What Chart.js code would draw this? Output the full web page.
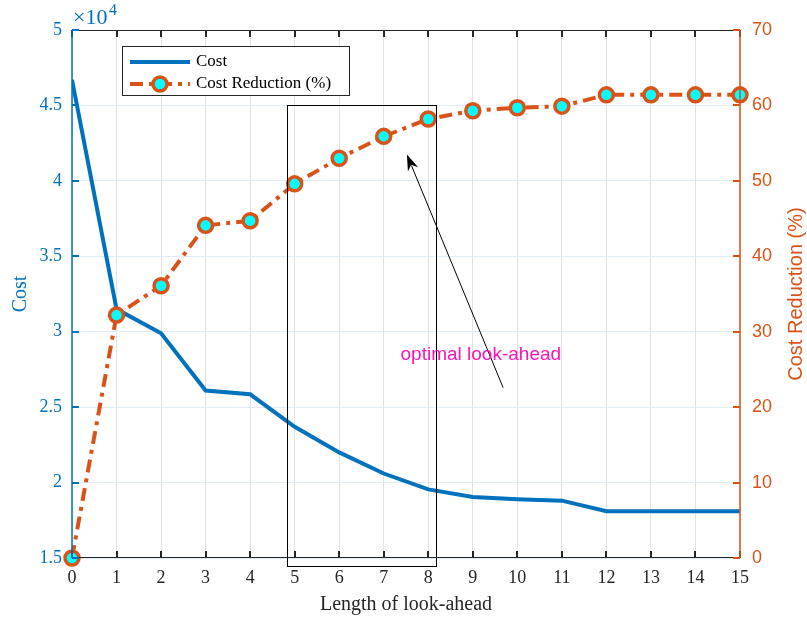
<!DOCTYPE html>
<html>
<head>
<meta charset="utf-8">
<script src="https://cdn.jsdelivr.net/npm/chart.js@4/dist/chart.umd.min.js"></script>
<style>
  html, body { margin: 0; padding: 0; background: #fff; }
  #wrap { width: 807px; height: 619px; }
</style>
</head>
<body>
<div id="wrap"><canvas id="c"></canvas></div>
<script>
// data
var lookAhead = [0, 1, 2, 3, 4, 5, 6, 7, 8, 9, 10, 11, 12, 13, 14, 15];
var cost = [46700, 31500, 29900, 26100, 25850, 23700, 22000, 20600, 19550, 19050, 18900, 18800, 18100, 18100, 18100, 18100];
var costReduction = [0, 32.2, 36.1, 44.1, 44.7, 49.6, 53.0, 55.9, 58.2, 59.3, 59.7, 59.9, 61.4, 61.4, 61.4, 61.4];
var costTicks = [15000, 20000, 25000, 30000, 35000, 40000, 45000, 50000];
var reductionTicks = [0, 10, 20, 30, 40, 50, 60, 70];

// annotation (data units)
var boxX = [4.83, 8.17];
var boxY = [45000, 14470];
var arrowFrom = [9.68, 26300];
var arrowTo = [7.52, 41750];
var noteAt = [9.18, 28460];
var noteText = 'optimal look-ahead';

var BLUE = '#0072BD', ORANGE = '#D95319', SERIF = '"Liberation Serif", "Times New Roman", serif', SANS = '"Liberation Sans", Arial, sans-serif';

var decorations = {
    id: 'decorations',
    afterDatasetsDraw: function (chart) {
        var ctx = chart.ctx, a = chart.chartArea;
        var x = chart.scales.x, y = chart.scales.y, y1 = chart.scales.y1;
        ctx.save();
        // axes box
        ctx.lineWidth = 1;
        ctx.strokeStyle = '#262626';
        ctx.beginPath();
        ctx.moveTo(a.left, a.top + 0.5); ctx.lineTo(a.right, a.top + 0.5);
        ctx.moveTo(a.left, a.bottom - 0.5); ctx.lineTo(a.right, a.bottom - 0.5);
        ctx.stroke();
        // x ticks (inward, top and bottom)
        ctx.lineWidth = 2;
        ctx.beginPath();
        lookAhead.forEach(function (v) {
            var px = Math.round(x.getPixelForValue(v));
            ctx.moveTo(px, a.bottom); ctx.lineTo(px, a.bottom - 7);
            ctx.moveTo(px, a.top); ctx.lineTo(px, a.top + 7);
        });
        ctx.stroke();
        // left axis
        ctx.strokeStyle = BLUE;
        ctx.lineWidth = 1.5;
        ctx.beginPath();
        ctx.moveTo(a.left, a.top); ctx.lineTo(a.left, a.bottom);
        ctx.stroke();
        ctx.lineWidth = 2;
        ctx.beginPath();
        costTicks.forEach(function (v) {
            var py = Math.round(y.getPixelForValue(v));
            ctx.moveTo(a.left, py); ctx.lineTo(a.left + 7, py);
        });
        ctx.stroke();
        // right axis
        ctx.strokeStyle = ORANGE;
        ctx.lineWidth = 1.5;
        ctx.beginPath();
        ctx.moveTo(a.right, a.top); ctx.lineTo(a.right, a.bottom);
        ctx.stroke();
        ctx.lineWidth = 2;
        ctx.beginPath();
        reductionTicks.forEach(function (v) {
            var py = Math.round(y1.getPixelForValue(v));
            ctx.moveTo(a.right, py); ctx.lineTo(a.right - 7, py);
        });
        ctx.stroke();
        ctx.restore();
    },
    afterDraw: function (chart) {
        var ctx = chart.ctx, a = chart.chartArea;
        var x = chart.scales.x, y = chart.scales.y;
        ctx.save();
        // exponent label
        ctx.fillStyle = BLUE;
        ctx.textBaseline = 'alphabetic';
        ctx.font = '22px ' + SERIF;
        ctx.fillText('\u00d710', a.left + 1, a.top - 6);
        ctx.font = '16px ' + SERIF;
        ctx.fillText('4', a.left + 37, a.top - 15);

        // right title, reading bottom to top
        ctx.save();
        ctx.translate(chart.width - 11, (a.top + a.bottom) / 2);
        ctx.rotate(-Math.PI / 2);
        ctx.textAlign = 'center';
        ctx.textBaseline = 'middle';
        ctx.fillStyle = ORANGE;
        ctx.font = '20px ' + SANS;
        ctx.fillText('Cost Reduction (%)', 0, 0);
        ctx.restore();

        // highlight box
        var bx0 = x.getPixelForValue(boxX[0]), bx1 = x.getPixelForValue(boxX[1]);
        var by0 = y.getPixelForValue(boxY[0]), by1 = y.getPixelForValue(boxY[1]);
        ctx.strokeStyle = '#000';
        ctx.lineWidth = 1;
        ctx.strokeRect(Math.round(bx0) + 0.5, Math.round(by0) + 0.5, Math.round(bx1 - bx0), Math.round(by1 - by0));

        // arrow
        var ax0 = x.getPixelForValue(arrowFrom[0]), ay0 = y.getPixelForValue(arrowFrom[1]);
        var ax1 = x.getPixelForValue(arrowTo[0]), ay1 = y.getPixelForValue(arrowTo[1]);
        var ang = Math.atan2(ay1 - ay0, ax1 - ax0);
        ctx.beginPath();
        ctx.moveTo(ax0, ay0);
        ctx.lineTo(ax1 - 12 * Math.cos(ang), ay1 - 12 * Math.sin(ang));
        ctx.stroke();
        ctx.fillStyle = '#000';
        ctx.beginPath();
        ctx.moveTo(ax1, ay1);
        ctx.lineTo(ax1 - 17 * Math.cos(ang - 0.33), ay1 - 17 * Math.sin(ang - 0.33));
        ctx.lineTo(ax1 - 11 * Math.cos(ang), ay1 - 11 * Math.sin(ang));
        ctx.lineTo(ax1 - 17 * Math.cos(ang + 0.33), ay1 - 17 * Math.sin(ang + 0.33));
        ctx.closePath();
        ctx.fill();

        // note text
        ctx.fillStyle = '#ff14b4';
        ctx.font = '19px ' + SANS;
        ctx.textAlign = 'center';
        ctx.textBaseline = 'middle';
        ctx.fillText(noteText, x.getPixelForValue(noteAt[0]), y.getPixelForValue(noteAt[1]));

        // legend
        var lx = 122, ly = 46, lw = 227, lh = 49;
        ctx.fillStyle = '#fff';
        ctx.fillRect(lx, ly, lw, lh);
        ctx.strokeStyle = '#262626';
        ctx.lineWidth = 1;
        ctx.strokeRect(lx + 0.5, ly + 0.5, lw, lh);
        var ds = chart.data.datasets;
        ctx.textAlign = 'left';
        ctx.font = '17px ' + SERIF;
        ds.forEach(function (d, i) {
            var cy = ly + 16 + i * 22;
            ctx.strokeStyle = d.borderColor;
            ctx.lineWidth = d.borderWidth;
            ctx.setLineDash(d.borderDash || []);
            ctx.beginPath();
            ctx.moveTo(lx + 8, cy); ctx.lineTo(lx + 68, cy);
            ctx.stroke();
            ctx.setLineDash([]);
            if (d.pointRadius) {
                ctx.beginPath();
                ctx.arc(lx + 38, cy, d.pointRadius, 0, Math.PI * 2);
                ctx.fillStyle = d.pointBackgroundColor;
                ctx.fill();
                ctx.lineWidth = d.pointBorderWidth;
                ctx.strokeStyle = d.pointBorderColor;
                ctx.stroke();
            }
            ctx.fillStyle = '#000';
            ctx.fillText(d.label, lx + 74, cy);
        });
        ctx.restore();
    }
};

new Chart(document.getElementById('c').getContext('2d'), {
    type: 'line',
    data: {
        labels: lookAhead,
        datasets: [{
            label: 'Cost',
            data: lookAhead.map(function (v, i) { return { x: v, y: cost[i] }; }),
            yAxisID: 'y',
            borderColor: BLUE,
            backgroundColor: BLUE,
            borderWidth: 4,
            pointRadius: 0,
            tension: 0,
            order: 2
        }, {
            label: 'Cost Reduction (%)',
            data: lookAhead.map(function (v, i) { return { x: v, y: costReduction[i] }; }),
            yAxisID: 'y1',
            borderColor: ORANGE,
            backgroundColor: ORANGE,
            borderWidth: 4,
            borderDash: [13, 6, 4, 6],
            pointRadius: 7,
            pointBorderWidth: 3.5,
            pointBorderColor: ORANGE,
            pointBackgroundColor: '#00FFFF',
            tension: 0,
            clip: false,
            order: 1
        }]
    },
    options: {
        responsive: true,
        maintainAspectRatio: false,
        animation: false,
        layout: { padding: { top: 30, right: 0, left: 0, bottom: 0 } },
        plugins: { legend: { display: false }, tooltip: { enabled: false } },
        scales: {
            x: {
                type: 'linear',
                min: 0, max: 15,
                afterFit: function (s) { s.height = 61; },
                border: { display: false },
                grid: { color: '#e3e3e3', lineWidth: 1, drawTicks: false },
                ticks: { stepSize: 1, padding: 9, color: '#262626', font: { family: SERIF, size: 18 } },
                title: { display: true, text: 'Length of look-ahead', color: '#262626', font: { family: SERIF, size: 20 }, padding: { top: 0, bottom: 2 } }
            },
            y: {
                position: 'left',
                min: 15000, max: 50000,
                afterFit: function (s) { s.width = 72; },
                afterBuildTicks: function (s) { s.ticks = costTicks.map(function (v) { return { value: v }; }); },
                border: { display: false },
                grid: { color: '#e2ecf6', lineWidth: 1, drawTicks: false },
                ticks: {
                    padding: 10, color: BLUE, font: { family: SERIF, size: 18 },
                    callback: function (v) { return String(v / 10000); }
                },
                title: { display: true, text: 'Cost', color: BLUE, font: { family: SERIF, size: 20 }, padding: { top: 9, bottom: 0 } }
            },
            y1: {
                position: 'right',
                min: 0, max: 70,
                afterFit: function (s) { s.width = 67; },
                afterBuildTicks: function (s) { s.ticks = reductionTicks.map(function (v) { return { value: v }; }); },
                border: { display: false },
                grid: { display: false, drawTicks: false },
                ticks: { padding: 12, color: ORANGE, font: { family: SANS, size: 18 } }
            }
        }
    },
    plugins: [decorations]
});
</script>
</body>
</html>
